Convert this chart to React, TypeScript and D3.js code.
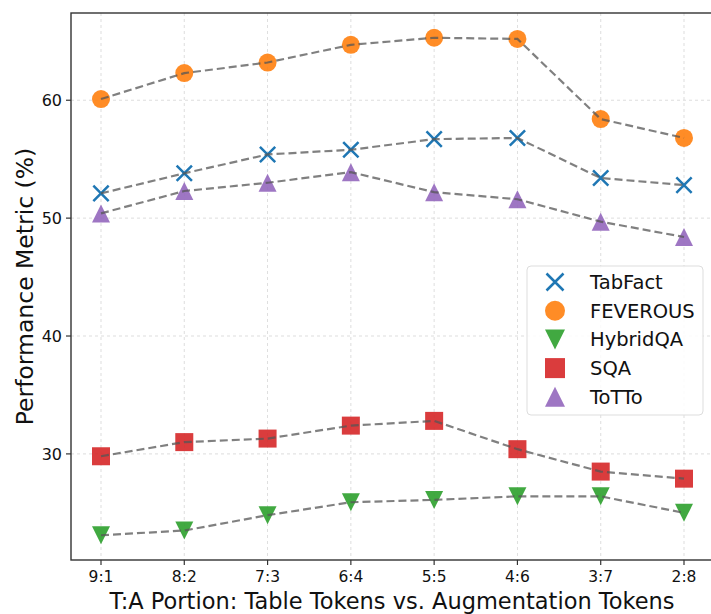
import React from "react";
import * as d3 from "d3";

const categories = ["9:1", "8:2", "7:3", "6:4", "5:5", "4:6", "3:7", "2:8"];
const tabfact = [52.1, 53.8, 55.4, 55.8, 56.7, 56.8, 53.4, 52.8];
const feverous = [60.1, 62.3, 63.2, 64.7, 65.3, 65.2, 58.4, 56.8];
const hybridqa = [23.1, 23.5, 24.8, 25.9, 26.1, 26.4, 26.4, 25.0];
const sqa = [29.8, 31.0, 31.3, 32.4, 32.8, 30.4, 28.5, 27.9];
const totto = [50.4, 52.3, 53.0, 53.9, 52.2, 51.6, 49.7, 48.4];
const yTicks = [30, 40, 50, 60];

const seriesNames = ["TabFact", "FEVEROUS", "HybridQA", "SQA", "ToTTo"];
const seriesValues = [tabfact, feverous, hybridqa, sqa, totto];
const seriesColors = ["#1f77b4", "#ff7f0e", "#2ca02c", "#d62728", "#9467bd"];
const seriesMarkers = ["x", "circle", "tri-down", "square", "tri-up"];

const W = 711;
const H = 614;
const left = 71;
const right = 713;
const top = 13;
const bottom = 560;

function Marker({ type, x, y, color, s = 9 }: { type: string; x: number; y: number; color: string; s?: number }) {
  if (type === "circle") return <circle cx={x} cy={y} r={s} fill={color} fillOpacity={0.9} />;
  if (type === "square") return <rect x={x - s} y={y - s} width={2 * s} height={2 * s} fill={color} fillOpacity={0.9} />;
  if (type === "x")
    return (
      <path
        d={`M${x - s * 0.85},${y - s * 0.85}L${x + s * 0.85},${y + s * 0.85}M${x - s * 0.85},${y + s * 0.85}L${x + s * 0.85},${y - s * 0.85}`}
        stroke={color}
        strokeWidth={2.5}
        fill="none"
      />
    );
  if (type === "tri-up")
    return <path d={`M${x},${y - s}L${x + s},${y + s}L${x - s},${y + s}Z`} fill={color} fillOpacity={0.9} />;
  return <path d={`M${x},${y + s}L${x + s},${y - s}L${x - s},${y - s}Z`} fill={color} fillOpacity={0.9} />;
}

export default function App() {
  const x = d3.scalePoint<string>().domain(categories).range([101, 684]);
  const y = d3.scaleLinear().domain([21.0, 67.4]).range([bottom, top]);
  const line = d3
    .line<number>()
    .x((_, i) => x(categories[i]) as number)
    .y((d) => y(d));
  const font = "'DejaVu Sans', sans-serif";
  const legendX = 527;
  const legendY = 266;
  const legendRow = 28.7;

  return (
    <svg width={W} height={H} style={{ position: "absolute", left: 0, top: 0, background: "#fff" }} fontFamily={font}>
      <rect x={0} y={0} width={W} height={H} fill="#fff" />
      {/* grid */}
      {categories.map((c) => (
        <line key={"gx" + c} x1={x(c)} x2={x(c)} y1={top} y2={bottom} stroke="#ccc" strokeWidth={0.8} strokeDasharray="3,3" opacity={0.8} />
      ))}
      {yTicks.map((t) => (
        <line key={"gy" + t} x1={left} x2={right} y1={y(t)} y2={y(t)} stroke="#ccc" strokeWidth={0.8} strokeDasharray="3,3" opacity={0.8} />
      ))}
      {/* markers */}
      {seriesValues.map((vals, si) =>
        vals.map((v, i) => (
          <Marker key={si + "-" + i} type={seriesMarkers[si]} x={x(categories[i]) as number} y={y(v)} color={seriesColors[si]} />
        ))
      )}
      {/* lines */}
      {seriesValues.map((vals, si) => (
        <path key={"l" + si} d={line(vals) || ""} fill="none" stroke="#555" strokeOpacity={0.75} strokeWidth={2.2} strokeDasharray="8,4" />
      ))}
      {/* frame */}
      <rect x={left} y={top} width={right - left} height={bottom - top} fill="none" stroke="#333" strokeWidth={1.4} />
      {/* y ticks */}
      {yTicks.map((t) => (
        <g key={"yt" + t}>
          <line x1={left - 5} x2={left} y1={y(t)} y2={y(t)} stroke="#333" strokeWidth={1.2} />
          <text x={left - 9} y={y(t)} dy="0.36em" textAnchor="end" fontSize={16} fill="#111">
            {t}
          </text>
        </g>
      ))}
      {/* x ticks */}
      {categories.map((c) => (
        <g key={"xt" + c}>
          <line x1={x(c)} x2={x(c)} y1={bottom} y2={bottom + 5} stroke="#333" strokeWidth={1.2} />
          <text x={x(c)} y={582} textAnchor="middle" fontSize={15.5} fill="#111">
            {c}
          </text>
        </g>
      ))}
      <text x={392} y={608.5} textAnchor="middle" fontSize={22.5} fill="#111">
        T:A Portion: Table Tokens vs. Augmentation Tokens
      </text>
      <text transform={`translate(33,${(top + bottom) / 2}) rotate(-90)`} textAnchor="middle" fontSize={23.5} fill="#111">
        Performance Metric (%)
      </text>
      {/* legend */}
      <rect x={legendX} y={legendY} width={176} height={149} rx={4} fill="#fff" fillOpacity={0.85} stroke="#ddd" strokeWidth={1} />
      {seriesNames.map((n, i) => (
        <g key={"lg" + n}>
          <Marker type={seriesMarkers[i]} x={555} y={legendY + 16 + i * legendRow} color={seriesColors[i]} s={10} />
          <text x={590} y={legendY + 16 + i * legendRow} dy="0.36em" fontSize={19.5} fill="#111">
            {n}
          </text>
        </g>
      ))}
    </svg>
  );
}
